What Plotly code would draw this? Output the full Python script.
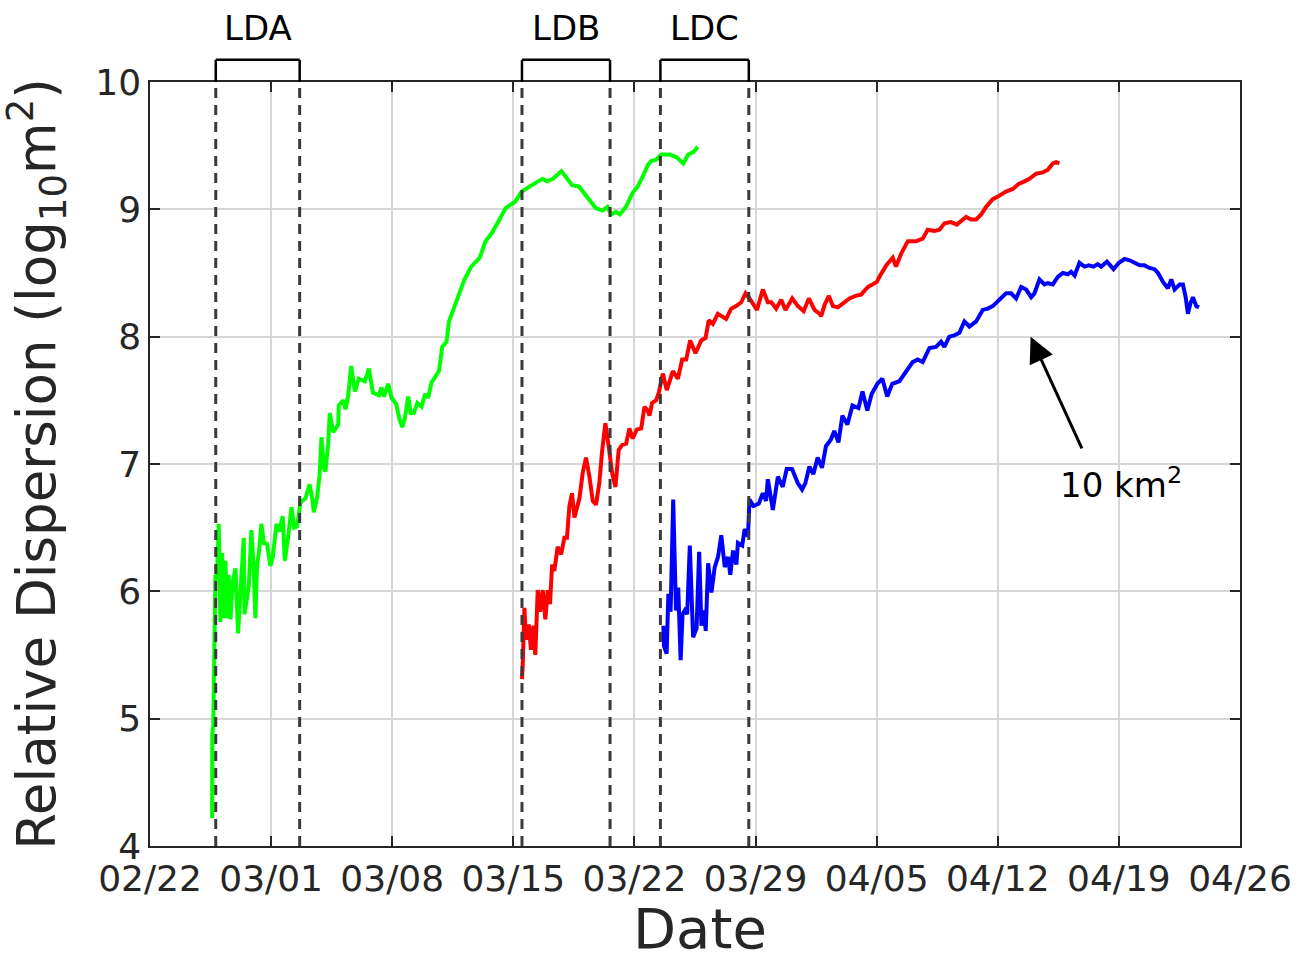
import pandas as pd
import plotly.graph_objects as go

# ---- data (time in days since 2015-02-22 00:00, value in log10 m^2) ----
green_t = [3.59, 3.60, 3.66, 3.78, 3.88, 3.97, 4.07, 4.17, 4.26, 4.36, 4.45, 4.55, 4.65, 4.78, 4.94,
           5.09, 5.23, 5.42, 5.46, 5.61, 5.71, 5.86, 6.00, 6.09, 6.19, 6.29, 6.44, 6.58, 6.77, 6.96,
           7.10, 7.31, 7.48, 7.67, 7.79, 7.98, 8.18, 8.33, 8.50, 8.70, 8.99, 9.22, 9.37, 9.47, 9.66,
           9.80, 9.91, 10.05, 10.14, 10.30, 10.39, 10.59, 10.88, 10.91, 11.17, 11.30, 11.45, 11.63,
           11.84, 12.07, 12.42, 12.65, 12.88, 13.23, 13.38, 13.52, 13.77, 13.96, 14.23, 14.42, 14.58,
           14.73, 14.93, 15.06, 15.25, 15.45, 15.70, 15.89, 16.08, 16.27, 16.47, 16.70, 16.89, 17.14,
           17.28, 17.50, 17.79, 18.18, 18.57, 19.06, 19.39, 19.74, 20.12, 20.55, 21.10, 21.49, 22.07,
           22.69, 22.94, 23.29, 23.78, 24.11, 24.40, 24.79, 25.18, 25.47, 25.76, 26.15, 26.44, 26.64,
           26.93, 27.16, 27.51, 27.90, 28.19, 28.49, 28.78, 28.97, 29.26, 29.56, 30.04, 30.43, 30.82,
           31.11, 31.40, 31.66]
green_v = [4.22, 4.88, 4.95, 6.13, 6.10, 6.53, 5.76, 6.30, 5.79, 6.24, 5.79, 6.13, 5.78, 6.07, 6.18,
           5.67, 6.00, 6.42, 5.82, 5.96, 6.04, 6.48, 6.16, 5.79, 6.21, 6.30, 6.53, 6.38, 6.37, 6.20,
           6.27, 6.53, 6.47, 6.59, 6.24, 6.42, 6.66, 6.50, 6.51, 6.70, 6.73, 6.84, 6.74, 6.62, 6.74,
           6.91, 7.21, 6.97, 6.94, 7.16, 7.40, 7.25, 7.31, 7.46, 7.50, 7.43, 7.53, 7.77,
           7.57, 7.67, 7.65, 7.75, 7.56, 7.54, 7.60, 7.53, 7.63, 7.52, 7.47, 7.35, 7.29,
           7.36, 7.53, 7.40, 7.40, 7.48, 7.45, 7.55, 7.52, 7.64, 7.68, 7.73, 7.92, 7.96,
           8.12, 8.20, 8.31, 8.45, 8.55, 8.62, 8.75, 8.81, 8.90, 9.01, 9.06, 9.14, 9.19,
           9.24, 9.22, 9.24, 9.30, 9.24, 9.19, 9.18, 9.11, 9.07, 9.01, 8.99, 9.02, 8.96,
           8.98, 8.96, 9.02, 9.13, 9.18, 9.26, 9.35, 9.38, 9.39, 9.43, 9.43, 9.41, 9.36,
           9.43, 9.45, 9.49]

red_t = [21.50, 21.54, 21.64, 21.73, 21.89, 22.02, 22.16, 22.27, 22.41, 22.54, 22.70, 22.85, 22.99,
         23.12, 23.24, 23.37, 23.56, 23.76, 23.95, 24.10, 24.24, 24.39, 24.53, 24.82, 25.01, 25.20,
         25.40, 25.59, 25.78, 25.97, 26.13, 26.32, 26.51, 26.71, 26.90, 27.09, 27.29, 27.52, 27.71,
         27.90, 28.13, 28.39, 28.58, 28.77, 28.87, 29.02, 29.25, 29.41, 29.64, 29.87, 30.22, 30.51,
         30.76, 30.99, 31.22, 31.53, 31.86, 32.11, 32.30, 32.53, 32.82, 33.11, 33.30, 33.59, 33.88,
         34.17, 34.42, 34.65, 35.08, 35.42, 35.71, 35.91, 36.19, 36.48, 36.73, 37.12, 37.45, 37.78,
         38.08, 38.41, 38.70, 38.79, 38.99, 39.24, 39.47, 39.76, 40.08, 40.43, 40.78, 41.10, 41.49,
         41.78, 42.01, 42.16, 42.55, 42.93, 43.12, 43.41, 43.80, 44.28, 44.66, 44.95, 45.34, 45.63,
         45.92, 46.30, 46.63, 47.17, 47.46, 47.75, 48.04, 48.33, 48.71, 49.00, 49.48, 49.87, 50.21,
         50.54, 50.83, 51.22, 51.60, 51.89, 52.18, 52.37, 52.56]
red_v = [5.31, 5.41, 5.87, 5.62, 5.74, 5.54, 5.73, 5.50, 6.01, 5.84, 6.01, 5.78, 6.01,
         5.90, 6.21, 6.16, 6.35, 6.29, 6.42, 6.42, 6.67, 6.77, 6.58, 6.73, 6.93, 7.05,
         6.90, 6.71, 6.68, 6.85, 7.10, 7.32, 7.14, 6.93, 6.82, 7.11, 7.15, 7.16, 7.28,
         7.20, 7.27, 7.28, 7.45, 7.42, 7.38, 7.48, 7.50, 7.56, 7.71, 7.58, 7.73, 7.67,
         7.82, 7.82, 7.97, 7.87, 7.97, 7.99, 8.13, 8.10, 8.18, 8.16, 8.14, 8.22, 8.24,
         8.27, 8.34, 8.30, 8.21, 8.37, 8.27, 8.27, 8.22, 8.29, 8.21, 8.30, 8.24, 8.20,
         8.30, 8.21, 8.18, 8.16, 8.25, 8.32, 8.24, 8.23, 8.26, 8.30, 8.32, 8.33, 8.39,
         8.41, 8.43, 8.47, 8.56, 8.62, 8.55, 8.65, 8.75, 8.75, 8.77, 8.84, 8.83, 8.84,
         8.89, 8.90, 8.88, 8.94, 8.92, 8.92, 8.96, 9.02, 9.08, 9.10, 9.14, 9.16, 9.20,
         9.22, 9.24, 9.28, 9.29, 9.31, 9.36, 9.37, 9.36]

blue_t = [29.67, 29.71, 29.86, 29.96, 30.09, 30.24, 30.40, 30.53, 30.67, 30.78, 30.91, 31.05, 31.20,
          31.39, 31.59, 31.74, 31.87, 32.01, 32.12, 32.26, 32.45, 32.64, 32.83, 33.02, 33.22, 33.41,
          33.54, 33.70, 33.89, 33.98, 34.23, 34.37, 34.56, 34.65, 34.88, 35.19, 35.42, 35.61, 35.71,
          36.00, 36.29, 36.57, 36.80, 37.11, 37.44, 37.69, 37.88, 38.11, 38.34, 38.59, 38.84, 39.07,
          39.35, 39.55, 39.79, 40.02, 40.31, 40.60, 40.95, 41.18, 41.46, 41.71, 42.04, 42.33, 42.61,
          42.90, 43.31, 43.70, 44.08, 44.37, 44.66, 45.05, 45.43, 45.72, 45.91, 46.20, 46.49, 46.78,
          47.07, 47.36, 47.75, 48.13, 48.42, 48.71, 49.10, 49.48, 49.77, 50.06, 50.35, 50.64, 50.93,
          51.12, 51.41, 51.70, 51.89, 52.18, 52.47, 52.76, 53.05, 53.24, 53.44, 53.72, 54.01, 54.26,
          54.53, 54.78, 54.98, 55.31, 55.50, 55.69, 56.00, 56.33, 56.62, 56.91, 57.20, 57.48, 57.77,
          58.06, 58.26, 58.55, 58.83, 59.03, 59.22, 59.51, 59.70, 59.86, 59.99, 60.13, 60.28, 60.47,
          60.63]
blue_v = [5.73, 5.57, 5.51, 5.98, 5.84, 6.72, 5.85, 6.03, 5.46, 5.82, 5.85, 5.82, 6.36,
          5.64, 5.71, 6.31, 5.73, 5.85, 5.69, 6.22, 5.99, 6.19, 6.27, 6.44, 6.19, 6.27,
          6.13, 6.32, 6.21, 6.38, 6.36, 6.49, 6.43, 6.72, 6.67, 6.69, 6.77, 6.71, 6.88,
          6.64, 6.90, 6.82, 6.96, 6.96, 6.85, 6.80, 6.85, 6.98, 6.92, 7.05, 6.97, 7.14,
          7.19, 7.26, 7.17, 7.38, 7.31, 7.46, 7.44, 7.57, 7.42, 7.55, 7.63, 7.67, 7.53,
          7.63, 7.65, 7.73, 7.80, 7.82, 7.80, 7.91, 7.92, 7.96, 7.92, 8.00, 8.01, 8.03,
          8.12, 8.08, 8.12, 8.21, 8.22, 8.24, 8.29, 8.34, 8.34, 8.30, 8.39, 8.37, 8.31,
          8.34, 8.45, 8.41, 8.42, 8.41, 8.47, 8.50, 8.49, 8.51, 8.48, 8.58, 8.55, 8.56,
          8.55, 8.57, 8.55, 8.59, 8.56, 8.53, 8.58, 8.61, 8.60, 8.58, 8.56, 8.56, 8.54,
          8.53, 8.50, 8.43, 8.38, 8.45, 8.37, 8.41, 8.41, 8.31, 8.18, 8.26, 8.31, 8.24,
          8.23]

# deployment windows (days since 2015-02-22)
deploy_names = ["LDA", "LDB", "LDC"]
deploy_start = [3.80, 21.50, 29.50]
deploy_end = [8.65, 26.59, 34.61]

x_tick_labels = ["02/22", "03/01", "03/08", "03/15", "03/22", "03/29", "04/05", "04/12", "04/19", "04/26"]
y_ticks = [4, 5, 6, 7, 8, 9, 10]

BASE = pd.Timestamp("2015-02-22")


def to_dt(days):
    return BASE + pd.to_timedelta(days, unit="D")


def to_dt_list(days_list):
    return list(to_dt(pd.Series(days_list)))


fig = go.Figure()
for t, v, col in [(green_t, green_v, "#00FF00"), (red_t, red_v, "#FF0000"), (blue_t, blue_v, "#0000FF")]:
    fig.add_trace(go.Scatter(x=to_dt_list(t), y=v, mode="lines",
                             line=dict(color=col, width=4), showlegend=False))

shapes = []
annotations = []
for name, s, e in zip(deploy_names, deploy_start, deploy_end):
    for d in (s, e):
        shapes.append(dict(type="line", xref="x", yref="paper", x0=to_dt(d), x1=to_dt(d), y0=0, y1=1,
                           line=dict(color="#3a3a3a", width=3, dash="10px,7px"), layer="above"))
    # bracket above plot
    shapes.append(dict(type="line", xref="x", yref="paper", x0=to_dt(s), x1=to_dt(s), y0=1.0, y1=1.029,
                       line=dict(color="black", width=2.5)))
    shapes.append(dict(type="line", xref="x", yref="paper", x0=to_dt(e), x1=to_dt(e), y0=1.0, y1=1.029,
                       line=dict(color="black", width=2.5)))
    shapes.append(dict(type="line", xref="x", yref="paper", x0=to_dt(s), x1=to_dt(e), y0=1.029, y1=1.029,
                       line=dict(color="black", width=2.5)))
    annotations.append(dict(text=name, xref="x", yref="paper", x=to_dt((s + e) / 2), y=1.071,
                            showarrow=False, font=dict(size=34, color="black"),
                            xanchor="center", yanchor="middle"))

# arrow pointing at 10 km^2 level
annotations.append(dict(x=to_dt(50.9), y=8.0, ax=to_dt(53.9), ay=7.11, xref="x", yref="y",
                        axref="x", ayref="y", text="", showarrow=True, arrowhead=2,
                        arrowsize=1.7, arrowwidth=3, arrowcolor="black"))
annotations.append(dict(x=to_dt(56.1), y=6.85, xref="x", yref="y", text="10 km<sup>2</sup>",
                        showarrow=False, font=dict(size=34, color="black"),
                        xanchor="center", yanchor="middle"))

# axis titles
annotations.append(dict(text="Relative Dispersion (log<sub>10</sub>m<sup>2</sup>)", xref="paper", yref="paper",
                        x=-0.104, y=0.5, textangle=-90, showarrow=False,
                        font=dict(size=53, color="#262626"), xanchor="center", yanchor="middle"))
annotations.append(dict(text="Date", xref="paper", yref="paper", x=0.5046, y=-0.108, showarrow=False,
                        font=dict(size=56, color="#262626"), xanchor="center", yanchor="middle"))

tickvals = [BASE + pd.Timedelta(days=7 * i) for i in range(len(x_tick_labels))]

axis_common = dict(showgrid=True, gridcolor="#d6d6d6", gridwidth=2,
                   showline=True, linecolor="#262626", linewidth=1.5, mirror="ticks",
                   ticks="inside", ticklen=10, tickcolor="#262626", tickwidth=1.5,
                   tickfont=dict(size=36, color="#262626"), zeroline=False)

fig.update_layout(
    width=1313, height=958,
    margin=dict(l=150, r=73, t=82, b=112),
    paper_bgcolor="white", plot_bgcolor="white",
    font=dict(family="DejaVu Sans", color="#262626"),
    shapes=shapes, annotations=annotations,
    xaxis=dict(range=[tickvals[0], tickvals[-1]], tickvals=tickvals, ticktext=x_tick_labels, **axis_common),
    yaxis=dict(range=[4, 10], tickvals=y_ticks, **axis_common),
)

fig.write_html("out.html", config={"displayModeBar": False},
               post_script="document.body.style.margin='0px';document.body.style.overflow='hidden';")
